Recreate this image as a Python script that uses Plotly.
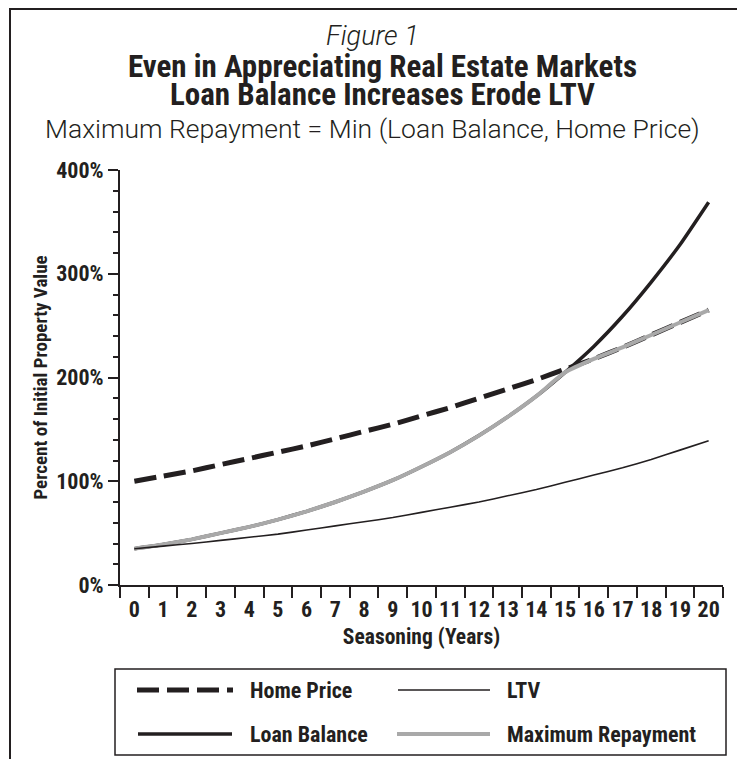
import plotly.graph_objects as go

years = [str(i) for i in range(21)]
home_price = [100, 105, 110, 116, 122, 128, 134, 141, 148, 155, 163, 171, 180, 189, 198, 208, 218, 229, 241, 253, 265]
loan_balance = [35, 39, 44, 50, 56, 63, 71, 80, 90, 101, 114, 128, 144, 162, 182, 205, 230, 259, 292, 328, 369]
ltv = [35, 37.5, 40, 43, 46, 49, 53, 57, 61, 65, 70, 75, 80, 86, 92, 99, 106, 113, 121, 130, 139]
max_repayment = [35, 39, 44, 50, 56, 63, 71, 80, 90, 101, 114, 128, 144, 162, 182, 205, 218, 229, 241, 253, 265]
y_tick_vals = [0, 100, 200, 300, 400]
y_tick_text = ["0%", "100%", "200%", "300%", "400%"]

BLACK = "#231f20"
GRAY = "#a9a9a9"
COND = "Roboto Condensed, Liberation Sans Narrow, Roboto, sans-serif"
LIGHT = "Roboto, Liberation Sans, sans-serif"

# page body has an 8px margin: figure is shrunk so the whole page is 745x759
OFF = 8
W, H = 745, 759
L, R, T, B = 120, 723, 170, 585

fig = go.Figure()
fig.add_trace(go.Scatter(x=years, y=home_price, mode="lines", name="Home Price",
                         line=dict(color=BLACK, width=5, dash="22px,8px", shape="spline", smoothing=0.5)))
fig.add_trace(go.Scatter(x=years, y=loan_balance, mode="lines", name="Loan Balance",
                         line=dict(color=BLACK, width=3.5, shape="spline", smoothing=0.5)))
fig.add_trace(go.Scatter(x=years, y=max_repayment, mode="lines", name="Maximum Repayment",
                         line=dict(color=GRAY, width=4, shape="spline", smoothing=0.5)))
fig.add_trace(go.Scatter(x=years, y=ltv, mode="lines", name="LTV",
                         line=dict(color=BLACK, width=1.6, shape="spline", smoothing=0.5)))


def px(x):
    return (x - L) / (R - L)


def py(y):
    return (B - y) / (B - T)


shapes = []
# outer frame
shapes.append(dict(type="rect", xref="paper", yref="paper", x0=px(10), x1=px(741), y0=py(775), y1=py(9),
                   line=dict(color=BLACK, width=2)))
# legend box
shapes.append(dict(type="rect", xref="paper", yref="paper", x0=px(115), x1=px(726), y0=py(755), y1=py(669),
                   line=dict(color=BLACK, width=1.5), fillcolor="white"))
legend_items = [
    ("Home Price", 137, 233, 690, BLACK, 5, "22px,8px", 248),
    ("LTV", 398, 490, 690, BLACK, 1.6, "solid", 505),
    ("Loan Balance", 138, 232, 734, BLACK, 3.5, "solid", 248),
    ("Maximum Repayment", 397, 490, 734, GRAY, 4, "solid", 505),
]
annotations = []
for name, xa, xb, yy, col, w, dash, tx in legend_items:
    shapes.append(dict(type="line", xref="paper", yref="paper", x0=px(xa), x1=px(xb), y0=py(yy), y1=py(yy),
                       line=dict(color=col, width=w, dash=dash)))
    annotations.append(dict(text=name, xref="paper", yref="paper", x=px(tx), y=py(yy), xanchor="left",
                            yanchor="middle", showarrow=False,
                            font=dict(family=COND, size=22, color=BLACK, weight="bold")))

# titles
annotations.append(dict(text="<i>Figure 1</i>", xref="paper", yref="paper", x=px(372), y=py(36), xanchor="center",
                        yanchor="middle", showarrow=False, font=dict(family=LIGHT, size=27, color=BLACK, weight=300)))
annotations.append(dict(text="Even in Appreciating Real Estate Markets",
                        xref="paper", yref="paper", x=px(382), y=py(66), xanchor="center", yanchor="middle",
                        showarrow=False, font=dict(family=COND, size=31, color=BLACK, weight="bold")))
annotations.append(dict(text="Loan Balance Increases Erode LTV",
                        xref="paper", yref="paper", x=px(382), y=py(95), xanchor="center", yanchor="middle",
                        showarrow=False, font=dict(family=COND, size=31, color=BLACK, weight="bold")))
annotations.append(dict(text="Maximum Repayment = Min (Loan Balance, Home Price)", xref="paper", yref="paper",
                        x=px(372), y=py(128), xanchor="center", yanchor="middle", showarrow=False,
                        font=dict(family=LIGHT, size=26.5, color=BLACK, weight=300)))

fig.update_layout(
    width=W - OFF, height=H - OFF,
    margin=dict(l=L - OFF, r=W - R, t=T - OFF, b=H - B, autoexpand=False),
    plot_bgcolor="white", paper_bgcolor="white",
    showlegend=False,
    shapes=shapes, annotations=annotations,
    font=dict(family=COND, color=BLACK),
)
fig.update_xaxes(
    type="category", range=[-0.5, 20.5], tickson="boundaries", ticks="outside", ticklen=11, tickwidth=1.5,
    tickcolor=BLACK, ticklabelstandoff=4,
    showline=True, linecolor=BLACK, linewidth=2, showgrid=False, zeroline=False, automargin=False, tickangle=0,
    tickfont=dict(family=COND, size=22, color=BLACK, weight="bold"),
    title=dict(text="Seasoning (Years)", font=dict(family=COND, size=21.5, color=BLACK, weight="bold"), standoff=8),
)
fig.update_yaxes(
    range=[0, 400], tickvals=y_tick_vals, ticktext=y_tick_text, ticks="outside", ticklen=10, tickwidth=1.5,
    tickcolor=BLACK, showline=True, linecolor=BLACK, linewidth=2, showgrid=False, zeroline=False, automargin=False,
    tickfont=dict(family=COND, size=22, color=BLACK, weight="bold"),
    minor=dict(dtick=20, ticks="outside", ticklen=5, tickwidth=1.5, tickcolor=BLACK, showgrid=False),
    title=dict(text="Percent of Initial Property Value", font=dict(family=COND, size=19, color=BLACK, weight="bold"),
               standoff=4),
)

fig.write_html("out.html")
